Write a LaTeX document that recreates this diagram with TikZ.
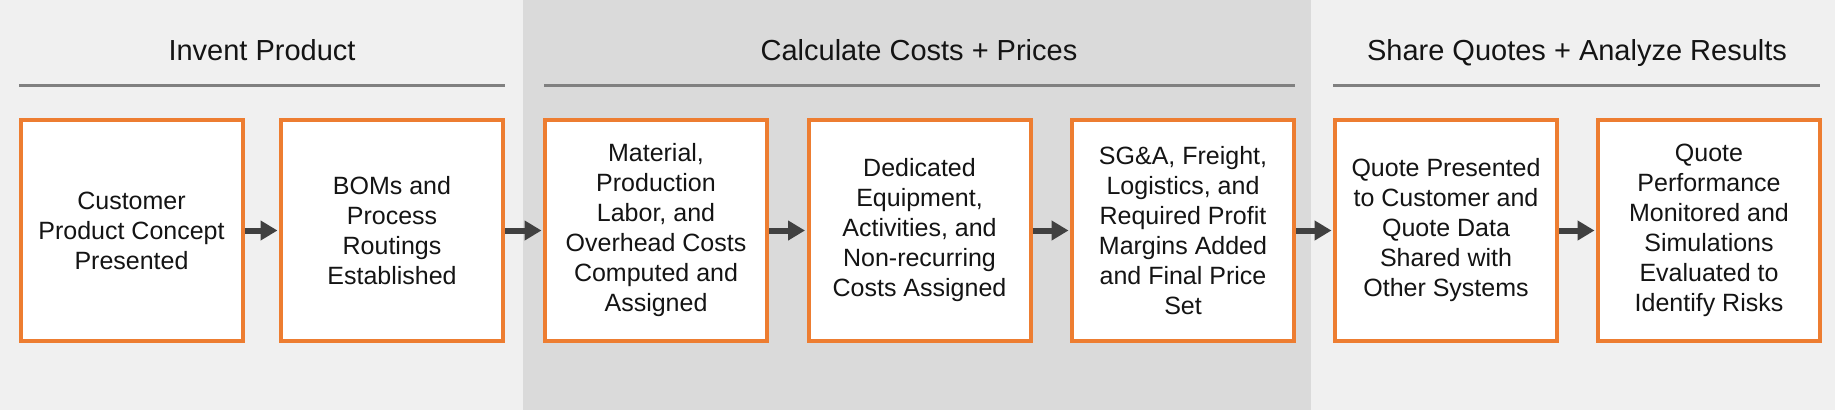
\documentclass[tikz,border=0pt]{standalone}
\usepackage{fontspec}
\setmainfont{Liberation Sans}
\usetikzlibrary{arrows.meta}
\definecolor{bglight}{HTML}{F0F0F0}
\definecolor{bgmid}{HTML}{DADADA}
\definecolor{boxorange}{HTML}{ED7D31}
\definecolor{rulegray}{HTML}{808080}
\definecolor{arrowgray}{HTML}{404040}
\definecolor{txt}{HTML}{141414}
\tikzset{
  stepbox/.style={draw=boxorange, line width=4pt, fill=white, rectangle,
    minimum width=222pt, minimum height=221pt, inner sep=0pt,
    align=center, text=txt, font=\fontsize{25}{30}\selectfont},
  heading/.style={anchor=base, text=txt, font=\fontsize{29}{34}\selectfont, inner sep=0pt},
  rulel/.style={draw=rulegray, line width=3pt},
  flow/.style={draw=arrowgray, line width=6pt, shorten >=1.5pt,
    -{Triangle[length=17pt 0 0, width=19pt 0 0]}, arrowgray}
}
\begin{document}
\begin{tikzpicture}[x=1pt, y=-1pt]
\useasboundingbox (0,0) rectangle (1835,410);
% backgrounds
\fill[bglight] (0,0) rectangle (523,410);
\fill[bgmid] (523,0) rectangle (1311,410);
\fill[bglight] (1311,0) rectangle (1835,410);
% headings
\node[heading] (h1) at (262,60) {Invent Product};
\node[heading] (h2) at (919,60) {Calculate Costs + Prices};
\node[heading] (h3) at (1577,60) {Share Quotes + Analyze Results};
% rules
\draw[rulel] (19,85) -- (505,85);
\draw[rulel] (544,85) -- (1295,85);
\draw[rulel] (1333,85) -- (1820,85);
% boxes
\node[stepbox] (b1) at (131.5,230.5) {Customer\\Product Concept\\Presented};
\node[stepbox] (b2) at (392,230.5) {BOMs and\\Process\\Routings\\Established};
\node[stepbox] (b3) at (656,230.5) {Material,\\Production\\Labor, and\\Overhead Costs\\Computed and\\Assigned};
\node[stepbox] (b4) at (919.5,230.5) {Dedicated\\Equipment,\\Activities, and\\Non-recurring\\Costs Assigned};
\node[stepbox] (b5) at (1183,230.5) {SG\&A, Freight,\\Logistics, and\\Required Profit\\Margins Added\\and Final Price\\Set};
\node[stepbox] (b6) at (1446,230.5) {Quote Presented\\to Customer and\\Quote Data\\Shared with\\Other Systems};
\node[stepbox] (b7) at (1709,230.5) {Quote\\Performance\\Monitored and\\Simulations\\Evaluated to\\Identify Risks};
% arrows
\foreach \a/\b in {b1/b2,b2/b3,b3/b4,b4/b5,b5/b6,b6/b7}
  \draw[flow] (\a.east) -- (\b.west);
\end{tikzpicture}
\end{document}
